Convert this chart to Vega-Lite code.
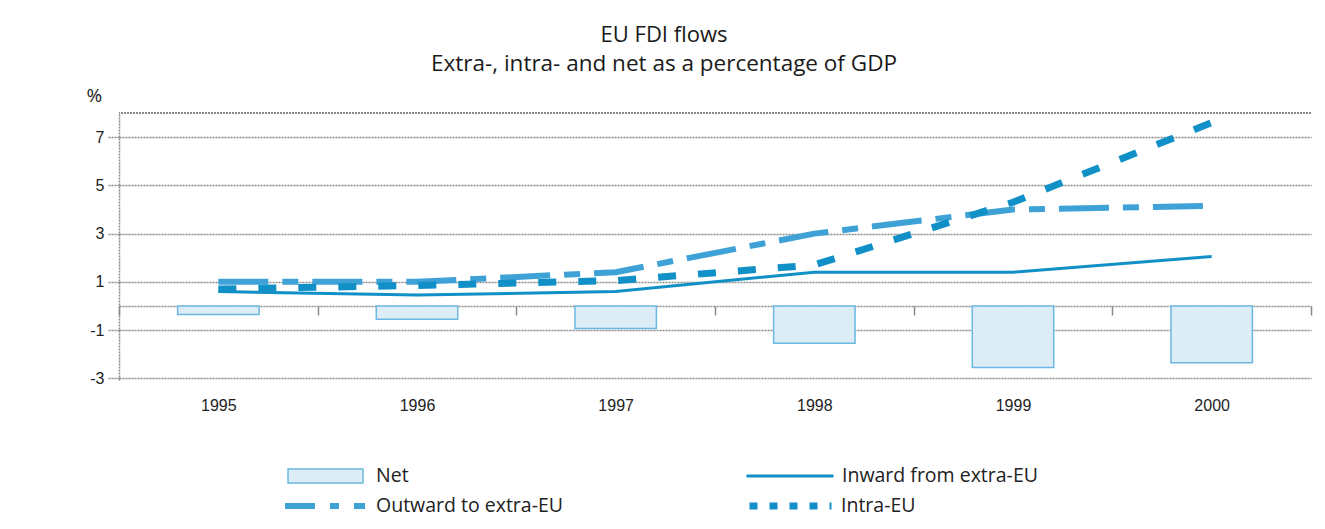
{
  "$schema": "https://vega.github.io/schema/vega-lite/v6.json",
  "autosize": {"type": "none"},
  "width": 1192,
  "height": 267,
  "padding": {"left": 119, "top": 113, "right": 14, "bottom": 149},
  "background": "white",
  "title": {
    "text": "EU FDI flows",
    "subtitle": "Extra-, intra- and net as a percentage of GDP",
    "anchor": "middle",
    "frame": "group",
    "dx": -51,
    "offset": 10,
    "font": "Open Sans",
    "fontSize": 22,
    "fontWeight": "normal",
    "color": "#1a1a1a",
    "subtitleFont": "Open Sans",
    "subtitleFontSize": 22.5,
    "subtitleFontWeight": "normal",
    "subtitleColor": "#1a1a1a",
    "subtitlePadding": 6
  },
  "data": {
    "values": [
      {"year": "1995", "series": "Net", "value": -0.35},
      {"year": "1996", "series": "Net", "value": -0.55},
      {"year": "1997", "series": "Net", "value": -0.93},
      {"year": "1998", "series": "Net", "value": -1.55},
      {"year": "1999", "series": "Net", "value": -2.55},
      {"year": "2000", "series": "Net", "value": -2.35},
      {"year": "1995", "series": "Inward from extra-EU", "value": 0.6},
      {"year": "1996", "series": "Inward from extra-EU", "value": 0.45},
      {"year": "1997", "series": "Inward from extra-EU", "value": 0.6},
      {"year": "1998", "series": "Inward from extra-EU", "value": 1.4},
      {"year": "1999", "series": "Inward from extra-EU", "value": 1.4},
      {"year": "2000", "series": "Inward from extra-EU", "value": 2.05},
      {"year": "1995", "series": "Outward to extra-EU", "value": 1.0},
      {"year": "1996", "series": "Outward to extra-EU", "value": 1.0},
      {"year": "1997", "series": "Outward to extra-EU", "value": 1.4},
      {"year": "1998", "series": "Outward to extra-EU", "value": 3.0},
      {"year": "1999", "series": "Outward to extra-EU", "value": 4.0},
      {"year": "2000", "series": "Outward to extra-EU", "value": 4.15},
      {"year": "1995", "series": "Intra-EU", "value": 0.7},
      {"year": "1996", "series": "Intra-EU", "value": 0.85},
      {"year": "1997", "series": "Intra-EU", "value": 1.05},
      {"year": "1998", "series": "Intra-EU", "value": 1.7},
      {"year": "1999", "series": "Intra-EU", "value": 4.3},
      {"year": "2000", "series": "Intra-EU", "value": 7.6}
    ]
  },
  "encoding": {
    "x": {
      "field": "year",
      "type": "ordinal",
      "scale": {"paddingInner": 0, "paddingOuter": 0},
      "axis": {
        "title": null,
        "orient": "bottom",
        "offset": -74,
        "domainColor": "#8a8a8a",
        "domainDash": [2, 1],
        "domainWidth": 1.5,
        "tickBand": "extent",
        "tickSize": 9,
        "tickColor": "#8a8a8a",
        "tickWidth": 1.5,
        "labelPadding": 82,
        "labelFont": "Liberation Sans",
        "labelFontSize": 16,
        "labelColor": "#222222",
        "labelAngle": 0,
        "grid": false
      }
    },
    "y": {
      "field": "value",
      "type": "quantitative",
      "scale": {"domain": [-3.07, 8], "nice": false, "zero": false},
      "axis": {
        "values": [-3, -1, 1, 3, 5, 7],
        "labelExpr": "datum.value < 0 ? '-' + abs(datum.value) : datum.label",
        "title": "%",
        "titleAngle": 0,
        "titleAlign": "left",
        "titleBaseline": "bottom",
        "titleX": -33,
        "titleY": -8,
        "titleFont": "Open Sans",
        "titleFontSize": 19,
        "titleFontWeight": "normal",
        "titleColor": "#222222",
        "grid": true,
        "gridColor": "#8a8a8a",
        "gridDash": [2, 1],
        "gridWidth": 1.5,
        "domainColor": "#8a8a8a",
        "domainDash": [2, 1],
        "domainWidth": 1.5,
        "tickSize": 11,
        "tickColor": "#8a8a8a",
        "tickDash": [2, 1],
        "tickWidth": 1.5,
        "labelFont": "Liberation Sans",
        "labelFontSize": 16,
        "labelColor": "#222222",
        "labelPadding": 4
      }
    }
  },
  "layer": [
    {
      "mark": {"type": "rule", "color": "#8a8a8a", "strokeDash": [2, 1], "strokeWidth": 1.5},
      "encoding": {"y": {"datum": 8}, "x": null}
    },
    {
      "transform": [{"filter": "datum.series === 'Net'"}],
      "mark": {"type": "bar", "width": {"band": 0.41}, "stroke": "#6bb8e2", "strokeWidth": 1.5},
      "encoding": {
        "fill": {
          "field": "series",
          "type": "nominal",
          "scale": {"domain": ["Net"], "range": ["#dcedf8"]},
          "legend": {
            "title": null,
            "orient": "none",
            "legendX": 168,
            "legendY": 353,
            "symbolType": "M-1,-0.187H1V0.187H-1Z",
            "symbolSize": 5625,
            "symbolStrokeColor": "#6bb8e2",
            "symbolStrokeWidth": 1.5,
            "symbolOpacity": 1,
            "labelOffset": 12
          }
        }
      }
    },
    {
      "transform": [{"filter": "datum.series === 'Inward from extra-EU'"}],
      "mark": {"type": "line", "strokeWidth": 3},
      "encoding": {
        "stroke": {
          "field": "series",
          "type": "nominal",
          "scale": {"domain": ["Inward from extra-EU"], "range": ["#1190c8"]},
          "legend": {
            "title": null,
            "orient": "none",
            "legendX": 626,
            "legendY": 353,
            "symbolType": "stroke",
            "symbolSize": 7569,
            "symbolStrokeWidth": 3,
            "labelOffset": 7
          }
        }
      }
    },
    {
      "transform": [{"filter": "datum.series === 'Outward to extra-EU'"}],
      "mark": {"type": "line", "strokeWidth": 6, "strokeDash": [50, 14, 16, 14]},
      "encoding": {
        "color": {
          "field": "series",
          "type": "nominal",
          "scale": {"domain": ["Outward to extra-EU"], "range": ["#3fa2d6"]},
          "legend": {
            "title": null,
            "orient": "none",
            "legendX": 163,
            "legendY": 383,
            "symbolType": "stroke",
            "symbolSize": 6400,
            "symbolStrokeWidth": 6,
            "symbolDash": [30, 15, 9, 15],
            "labelOffset": 8
          }
        }
      }
    },
    {
      "transform": [{"filter": "datum.series === 'Intra-EU'"}],
      "mark": {"type": "line", "strokeWidth": 7, "color": "#1190c8", "strokeDash": [18, 22]},
      "encoding": {}
    },
    {
      "transform": [{"filter": "datum.series === 'Intra-EU'"}],
      "mark": {"type": "line", "strokeWidth": 7, "color": "#1190c8", "opacity": 0},
      "encoding": {
        "strokeDash": {
          "field": "series",
          "type": "nominal",
          "scale": {"domain": ["Intra-EU"], "range": [[8, 12]]},
          "legend": {
            "title": null,
            "orient": "none",
            "legendX": 627,
            "legendY": 383,
            "symbolType": "stroke",
            "symbolSize": 6724,
            "symbolStrokeColor": "#1190c8",
            "symbolStrokeWidth": 7,
            "symbolOpacity": 1,
            "labelOffset": 6
          }
        }
      }
    }
  ],
  "config": {
    "view": {"stroke": null},
    "legend": {
      "labelFont": "Open Sans",
      "labelFontSize": 19.5,
      "labelColor": "#222222",
      "labelLimit": 400,
      "clipHeight": 20
    }
  }
}
